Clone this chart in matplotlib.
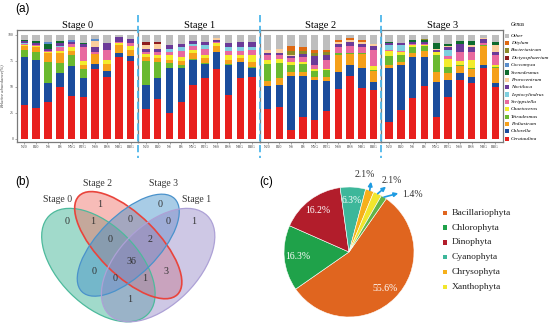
import numpy as np
import matplotlib.pyplot as plt
from matplotlib.patches import Ellipse, Rectangle
from matplotlib.lines import Line2D

# === DATA ===
stages = ["Stage 0", "Stage 1", "Stage 2", "Stage 3"]
samples = ["N20", "B20", "NS", "BS", "NYG", "BYG", "NSS", "BSS", "NBG", "BBG"]

# relative abundance (%) per genus, 10 samples per stage (stage 0..3)
Cerataulina = [33, 30, 36, 50, 41, 40, 67, 60, 79, 75,
               29, 38, 25, 36, 52, 59, 67, 42, 59, 60,
               29, 31, 9, 21, 18, 27, 48, 61, 49, 47,
               16, 28, 39, 51, 21, 40, 57, 54, 68, 50]
Chlorella = [46, 46, 18, 13, 29, 19, 5, 5, 4, 5,
             23, 21, 43, 32, 24, 13, 17, 29, 15, 8,
             22, 21, 52, 40, 39, 29, 16, 10, 19, 8,
             52, 43, 40, 28, 34, 17, 6, 6, 3, 4]
Pediastrum = [3, 4, 9, 10, 4, 4, 10, 7, 7, 6,
              4, 4, 3, 4, 6, 5, 5, 4, 4, 5,
              5, 7, 3, 3, 3, 4, 17, 11, 14, 10,
              3, 3, 4, 6, 9, 6, 7, 7, 18, 14]
Tetradesmus = [7, 8, 20, 10, 11, 8, 0, 0, 0, 0,
               23, 15, 5, 3, 1, 1, 0, 1, 0, 1,
               16, 14, 7, 8, 5, 6, 2, 1, 1, 1,
               9, 7, 5, 4, 17, 6, 1, 1, 1, 1]
Chaetoceros = [1, 1, 1, 2, 3, 4, 0, 4, 2, 3,
               3, 3, 5, 4, 3, 3, 3, 5, 3, 7,
               4, 4, 3, 2, 2, 1, 0, 0, 0, 4,
               5, 3, 2, 1, 3, 8, 4, 8, 0, 2]
Scrippsiella = [1, 1, 1, 3, 3, 13, 2, 10, 1, 3,
                2, 3, 3, 6, 3, 6, 1, 4, 4, 5,
                5, 4, 4, 5, 4, 9, 5, 6, 5, 16,
                1, 1, 1, 1, 0, 3, 9, 8, 2, 10]
Leptocylindrus = [1, 0, 0, 1, 0, 0, 0, 0, 0, 0,
                  0, 0, 3, 3, 2, 3, 0, 3, 3, 2,
                  0, 0, 0, 0, 0, 0, 0, 0, 0, 0,
                  4, 5, 0, 0, 0, 6, 0, 0, 0, 0]
Noctiluca = [2, 2, 2, 3, 2, 3, 4, 6, 5, 4,
             3, 3, 3, 3, 3, 3, 2, 4, 5, 5,
             2, 2, 2, 3, 9, 5, 3, 4, 3, 3,
             2, 2, 2, 2, 2, 2, 7, 4, 4, 3]
Prorocentrum = [0, 0, 0, 0, 0, 0, 6, 0, 0, 0,
                3, 4, 0, 0, 0, 0, 2, 0, 0, 0,
                3, 4, 1, 0, 0, 0, 2, 2, 2, 2,
                0, 0, 0, 0, 1, 1, 0, 2, 1, 6]
Scenedesmus = [1, 2, 4, 2, 0, 1, 0, 0, 0, 0,
               0, 0, 0, 0, 0, 0, 0, 0, 0, 0,
               0, 0, 0, 0, 0, 0, 0, 0, 0, 0,
               1, 0, 2, 2, 5, 2, 3, 4, 0, 3]
Coccomyxa = [0, 0, 2, 0, 2, 0, 2, 0, 0, 0,
             0, 0, 0, 0, 0, 0, 0, 0, 0, 0,
             0, 0, 0, 0, 0, 0, 0, 0, 0, 0,
             0, 0, 0, 0, 0, 0, 0, 0, 0, 0]
Dictyosphaerium = [0, 0, 0, 0, 0, 0, 0, 0, 0, 0,
                   3, 2, 0, 0, 0, 0, 0, 0, 0, 0,
                   0, 0, 0, 0, 0, 0, 0, 0, 0, 0,
                   0, 0, 0, 0, 0, 0, 0, 0, 0, 0]
Bacteriastrum = [0, 0, 0, 0, 0, 0, 0, 0, 0, 0,
                 0, 0, 0, 0, 0, 0, 0, 0, 0, 0,
                 0, 0, 4, 3, 3, 3, 0, 0, 0, 0,
                 0, 0, 0, 1, 0, 0, 0, 0, 0, 0]
Ditylum = [0, 0, 0, 0, 0, 0, 0, 0, 0, 0,
           0, 0, 0, 0, 0, 0, 0, 0, 0, 0,
           0, 0, 4, 3, 3, 2, 2, 2, 2, 0,
           0, 0, 0, 0, 0, 0, 0, 0, 0, 0]
Other = [5, 6, 7, 6, 5, 8, 4, 8, 2, 4,
         7, 7, 10, 9, 6, 7, 3, 8, 7, 7,
         14, 13, 11, 12, 14, 14, 5, 3, 5, 9,
         7, 8, 5, 4, 8, 9, 6, 6, 3, 7]

# venn counts (b)
venn_sets = ["Stage 0", "Stage 2", "Stage 3", "Stage 1"]
venn_counts = {
    "0": 0, "2": 1, "3": 0, "1": 1,
    "02": 1, "23": 0, "31": 0, "01": 1,
    "023": 0, "231": 2, "03": 0, "21": 3,
    "031": 0, "021": 1, "0231": 36,
}

# phylum composition (c)
phyla = ["Bacillariophyta", "Chlorophyta", "Dinophyta", "Cyanophyta",
         "Chrysophyta", "Xanthophyta", "Others"]
phyla_pct = [55.6, 16.3, 16.2, 6.3, 2.1, 2.1, 1.4]

# === STYLE ===
genus = {
    "Cerataulina": (Cerataulina, "#E8201E"),
    "Chlorella": (Chlorella, "#1B4C9C"),
    "Pediastrum": (Pediastrum, "#F5A01A"),
    "Tetradesmus": (Tetradesmus, "#6AB92F"),
    "Chaetoceros": (Chaetoceros, "#F3EC2C"),
    "Scrippsiella": (Scrippsiella, "#E8699F"),
    "Leptocylindrus": (Leptocylindrus, "#7FCFDF"),
    "Noctiluca": (Noctiluca, "#6B3A99"),
    "Prorocentrum": (Prorocentrum, "#FBCF9E"),
    "Scenedesmus": (Scenedesmus, "#0E6B2E"),
    "Coccomyxa": (Coccomyxa, "#5A8DCB"),
    "Dictyosphaerium": (Dictyosphaerium, "#8E1B1E"),
    "Bacteriastrum": (Bacteriastrum, "#8C8A2A"),
    "Ditylum": (Ditylum, "#DF6912"),
    "Other": (Other, "#BEBEBE"),
}
stack_order = list(genus.keys())
# stages 0 and 1 were stacked with Tetradesmus beneath Pediastrum
stack_order_early = stack_order.copy()
stack_order_early[2], stack_order_early[3] = stack_order_early[3], stack_order_early[2]

phyla_colors = ["#E0651F", "#1FA24A", "#B21D2B", "#3DB79A", "#F6B01B", "#F1E62C", "#62B447"]

SERIF = "Liberation Serif"
SANS = "Liberation Sans"
W, H = 550, 328


def rect(x0, y0, x1, y1):
    # image pixel box -> figure fraction
    return [x0 / W, 1 - y1 / H, (x1 - x0) / W, (y1 - y0) / H]


fig = plt.figure(figsize=(5.5, 3.28), dpi=100)

# === (a) stacked bars ===
edges = np.linspace(16.7, 503, 5)
x = np.arange(len(samples))
for s, name in enumerate(stages):
    ax = fig.add_axes(rect(edges[s], 30, edges[s + 1], 141.7))
    order = stack_order_early if s < 2 else stack_order
    bottom = np.zeros(len(samples))
    for g in order:
        vals = np.array(genus[g][0][10 * s:10 * s + 10], dtype=float)
        ax.bar(x, vals, 0.63, bottom=bottom, color=genus[g][1], linewidth=0)
        bottom += vals
    ax.set_xlim(-0.65, 9.65)
    ax.set_ylim(-2.6, 104.8)
    ax.set_xticks(x)
    ax.set_xticklabels(samples, fontsize=2.8, family=SERIF, color="#444444")
    ax.tick_params(length=1.2, width=0.4, pad=1, colors="#666666", labelcolor="#444444")
    if s == 0:
        ax.set_yticks([0, 25, 50, 75, 100])
        ax.set_yticklabels(["0", "25", "50", "75", "100"], fontsize=2.8, family=SERIF)
        ax.set_ylabel("Relative abundance(%)", fontsize=3.3, family=SERIF,
                      style="italic", labelpad=3, color="#444444")
    else:
        ax.set_yticks([])
    for sp in ax.spines.values():
        sp.set_color("#7A7A7A")
        sp.set_linewidth(0.9)
    ax.set_title(name, fontsize=7.5, family=SERIF, pad=1.5)

for xd in edges[1:4]:
    fig.add_artist(Line2D([xd / W, xd / W], [1 - 15 / H, 1 - 158 / H],
                          color="#4DB6EA", lw=1.3, ls=(0, (4, 2))))

# genus legend
lax = fig.add_axes(rect(503, 18, 550, 145))
lax.set_xlim(503, 550)
lax.set_ylim(145, 18)
lax.axis("off")
lax.text(510.5, 25, "Genus", fontsize=4, family=SERIF, style="italic", va="center")
for i, g in enumerate(reversed(stack_order)):
    yc = 35.7 + i * 7.36
    lax.add_patch(Rectangle((504.5, yc - 2.1), 4.2, 4.2, color=genus[g][1], lw=0))
    lax.text(511, yc, g, fontsize=3.9, family=SERIF, style="italic", va="center")

fig.text(23 / W, 1 - 9 / H, "(a)", fontsize=8.5, family=SANS, ha="center", va="center")

# === (b) venn ===
vax = fig.add_axes(rect(0, 160, 270, 328))
vax.set_xlim(-0.1445, 1.2123)
vax.set_ylim(0.1538, 0.998)
vax.axis("off")
ell_spec = [  # x, y, a, b, angle, fill, edge
    (0.35, 0.47, 0.35, 0.20, 135, "#2FAE8D", "#4DBA9C"),
    (0.50, 0.57, 0.35, 0.15, 135, "#EF6B62", "#E9443C"),
    (0.50, 0.57, 0.33, 0.15, 45, "#3F8EC9", "#4A92CB"),
    (0.65, 0.47, 0.35, 0.20, 45, "#9385C6", "#ADA1D6"),
]
for (cx, cy, a, b, ang, fc, ec) in ell_spec:
    vax.add_patch(Ellipse((cx, cy), 2 * a, 2 * b, angle=ang, facecolor=fc,
                          alpha=0.45, lw=0))
for (cx, cy, a, b, ang, fc, ec) in ell_spec:
    vax.add_patch(Ellipse((cx, cy), 2 * a, 2 * b, angle=ang, fill=False,
                          edgecolor=ec, lw=1.2 if ec == "#E9443C" else 0.9))

region_pos = {
    "0": (0.191, 0.688), "2": (0.358, 0.772), "3": (0.659, 0.772), "1": (0.827, 0.688),
    "02": (0.321, 0.688), "23": (0.509, 0.700), "31": (0.698, 0.688),
    "023": (0.408, 0.596), "231": (0.609, 0.596), "0231": (0.514, 0.487),
    "03": (0.329, 0.437), "21": (0.688, 0.437), "031": (0.433, 0.404),
    "021": (0.581, 0.404), "01": (0.509, 0.298),
}
for key, n in venn_counts.items():
    vx, vy = region_pos[key]
    vax.text(vx, vy, str(n), fontsize=7.2, family=SERIF, ha="center", va="center",
             color="#333333")
set_label_pos = [(0.147, 0.797), (0.344, 0.881), (0.676, 0.881), (0.844, 0.797)]
for name, (lx, ly) in zip(venn_sets, set_label_pos):
    vax.text(lx, ly, name, fontsize=7, family=SERIF, ha="center", va="center",
             color="#333333")

fig.text(22 / W, 1 - 182 / H, "(b)", fontsize=8.5, family=SANS, ha="center", va="center")
fig.text(266 / W, 1 - 182 / H, "(c)", fontsize=8.5, family=SANS, ha="center", va="center")

# === (c) pie ===
R = 65
pcx, pcy = 349, 252
pax = fig.add_axes(rect(pcx - 1.1 * R, pcy - 1.1 * R, pcx + 1.1 * R, pcy + 1.1 * R))
wedges, _ = pax.pie(phyla_pct, colors=phyla_colors, startangle=55, counterclock=False,
                    wedgeprops=dict(edgecolor="white", linewidth=0.4))
pax.set_xlim(-1.1, 1.1)
pax.set_ylim(-1.1, 1.1)
pax.set_aspect("equal")

for w, p in zip(wedges, phyla_pct):
    mid = np.deg2rad((w.theta1 + w.theta2) / 2)
    if p > 5:
        pax.text(0.79 * np.cos(mid), 0.79 * np.sin(mid), f"{p}%", fontsize=7,
                 family=SERIF, color="white", ha="center", va="center")

small_text_pos = [(0.246, 1.185), (0.657, 1.097), (0.97, 0.892)]
small_heads = [(0.338, 1.082), (0.569, 1.005), (0.758, 0.903)]
small = [i for i, p in enumerate(phyla_pct) if p <= 5]
for i, tpos, head in zip(small, small_text_pos, small_heads):
    w = wedges[i]
    mid = np.deg2rad((w.theta1 + w.theta2) / 2)
    tail = (1.0 * np.cos(mid), 1.0 * np.sin(mid))
    pax.annotate("", xy=head, xytext=tail, annotation_clip=False,
                 arrowprops=dict(arrowstyle="-|>", color="#1E9BE2", lw=1.2,
                                 mutation_scale=6, shrinkA=0, shrinkB=0))
    pax.text(tpos[0], tpos[1], f"{phyla_pct[i]}%", fontsize=7, family=SERIF,
             color="#333333", ha="center", va="center", clip_on=False)

# pie legend (first six phyla)
gax = fig.add_axes(rect(440, 200, 550, 300))
gax.set_xlim(440, 550)
gax.set_ylim(300, 200)
gax.axis("off")
for i in range(6):
    yc = 212.7 + i * 14.8
    gax.add_patch(Rectangle((443, yc - 2.2), 4.4, 4.4, color=phyla_colors[i], lw=0))
    gax.text(451.5, yc, phyla[i], fontsize=6.8, family=SERIF, va="center", color="#222222")

fig.savefig("out.png", dpi=100)
